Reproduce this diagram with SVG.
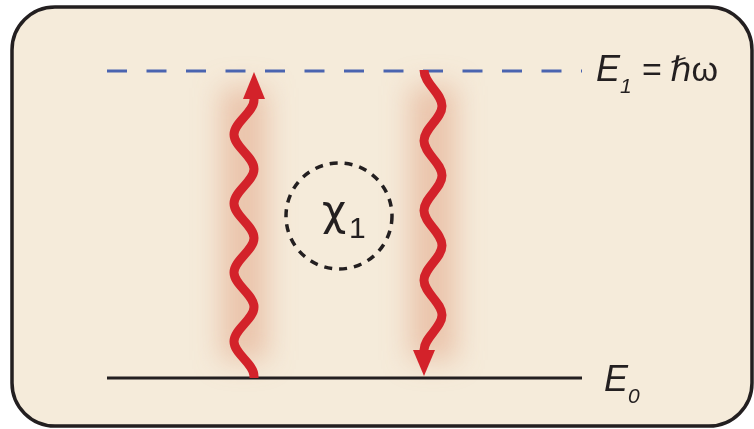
<svg xmlns="http://www.w3.org/2000/svg" width="754" height="429" viewBox="0 0 754 429">
<defs>
<style>
.txt{font-family:"Liberation Sans","DejaVu Sans",sans-serif;fill:#231f20}
.it{font-style:italic}
.wave{fill:none;stroke:#d3222a;stroke-width:9;stroke-linecap:butt}
.glow{fill:none;stroke:#e2a283;stroke-width:46;opacity:0.55}
.head{fill:#d3222a}
</style>
<filter id="blur" x="-150%" y="-20%" width="400%" height="140%"><feGaussianBlur stdDeviation="14"/></filter>
</defs>
<rect id="frame" x="12" y="7" width="740" height="419" rx="43" ry="43" fill="#f5ebda" stroke="#231f20" stroke-width="3.5"/>
<g id="glows" filter="url(#blur)">
<path class="glow" d="M244,360 L244,88"/>
<path class="glow" d="M433,86 L433,360"/>
</g>
<g id="levels">
<line id="E1-line" x1="107" y1="71" x2="582" y2="71" stroke="#4a64b0" stroke-width="3" stroke-dasharray="20,19.5"/>
<line id="E0-line" x1="107" y1="378" x2="582" y2="378" stroke="#231f20" stroke-width="3"/>
</g>
<g id="connectors">
<g id="absorb">
<path class="wave" d="M254,378 L254,376 C254,363.6 234,353.9 234,341.5 C234,329.1 254,319.4 254,307 C254,294.6 234,284.9 234,272.5 C234,260.1 254,250.4 254,238 C254,225.6 234,215.9 234,203.5 C234,191.1 254,181.4 254,169 C254,156.6 234,146.9 234,134.5 C234,122.1 254,112.4 254,100 L254,96"/>
<polygon class="head" points="254,72 243,99 265,99"/>
</g>
<g id="emit">
<path class="wave" d="M424,70 C424,83.6 442,93.3 442,105.9 C442,118.5 424,128.2 424,140.75 C424,153.4 442,163 442,175.6 C442,188.2 424,197.9 424,210.5 C424,223.1 442,232.8 442,245.4 C442,258 424,267.7 424,280.25 C424,292.9 442,302.5 442,315.1 C442,327.7 424,337.4 424,350 L424,354"/>
<polygon class="head" points="424,376 413,350 435,350"/>
</g>
</g>
<g id="chi">
<circle cx="339" cy="216" r="53" fill="none" stroke="#231f20" stroke-width="3.5" stroke-dasharray="8,7"/>
<text x="322" y="225" font-size="42" font-family="'DejaVu Sans',sans-serif" fill="#231f20">χ</text>
<text class="txt" x="349" y="238" font-size="30">1</text>
</g>
<g id="label-E1">
<text class="txt it" x="596" y="81" font-size="36">E</text>
<text class="txt it" x="620" y="93" font-size="21">1</text>
<text class="txt" x="642" y="81" font-size="34">=</text>
<text class="txt it" x="670" y="81" font-size="34">ℏ<tspan font-style="normal">ω</tspan></text>
</g>
<g id="label-E0">
<text class="txt it" x="604" y="391" font-size="36">E</text>
<text class="txt it" x="628" y="403" font-size="21">0</text>
</g>
</svg>
